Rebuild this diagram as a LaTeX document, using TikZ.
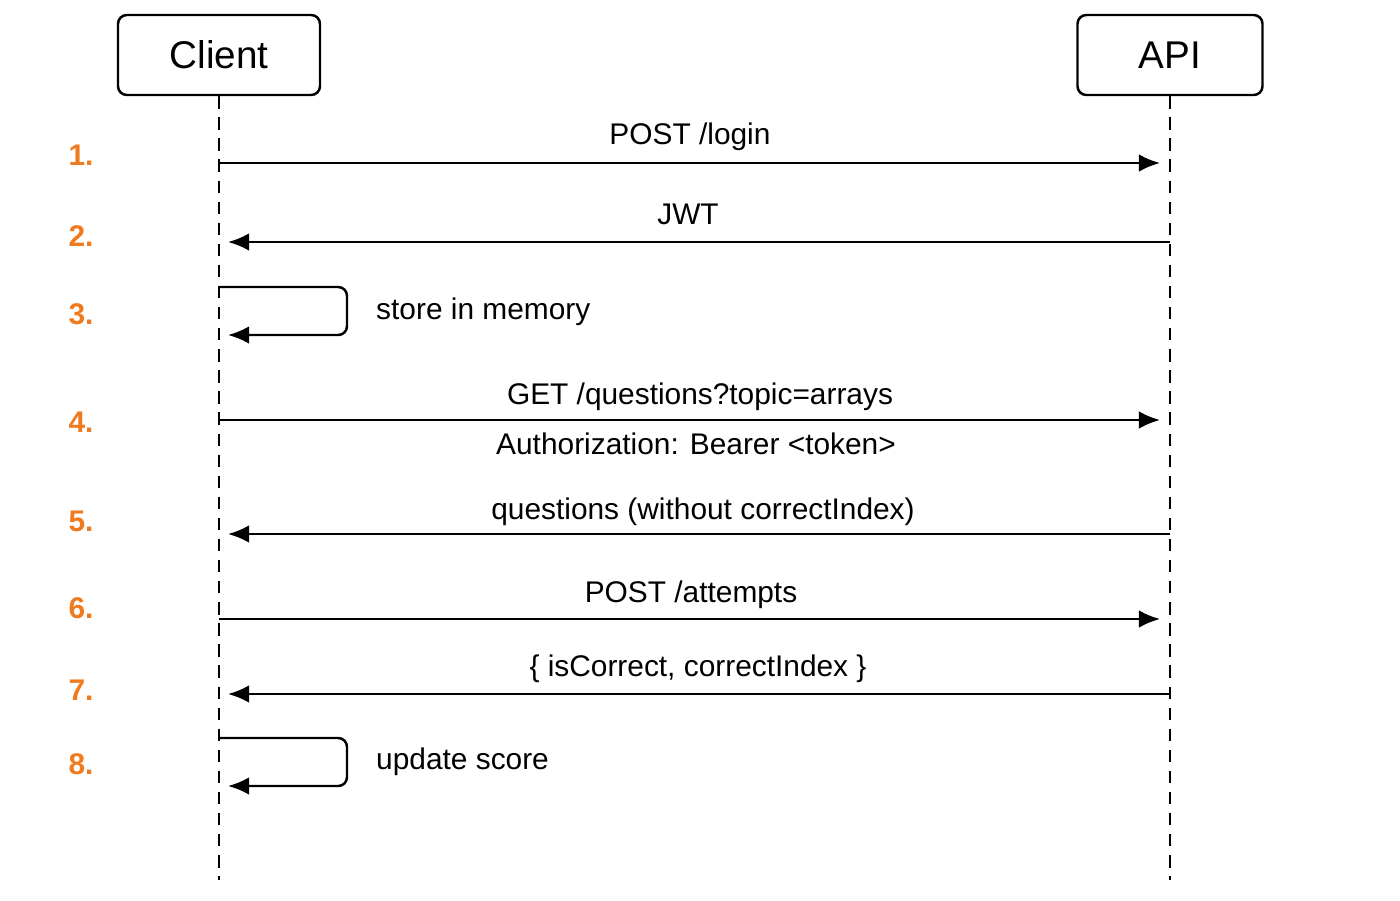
\documentclass[tikz,border=0pt]{standalone}
\usepackage{fontspec}
\setmainfont{Liberation Sans}
\usetikzlibrary{arrows.meta}
\definecolor{num}{HTML}{F07A1E}
\begin{document}
\begin{tikzpicture}[x=0.02cm,y=-0.02cm,
  box/.style={draw,line width=1.4pt,rounded corners=5pt,inner sep=0},
  life/.style={line width=1.3pt,dash pattern=on 7pt off 5pt},
  msg/.style={line width=1.4pt,-{Latex[length=12pt,width=10pt]}},
  lab/.style={font=\fontsize{17}{20}\selectfont},
  num/.style={font=\bfseries\fontsize{17}{20}\selectfont,text=num}]
\useasboundingbox (0,0) rectangle (1400,900);
\node[box,minimum width=202*0.02cm,minimum height=80*0.02cm] (client) at (219,55) {};
\node[font=\fontsize{22}{26}\selectfont] (clientl) at (219,55) {Client};
\node[box,minimum width=185*0.02cm,minimum height=80*0.02cm] (api) at (1170,55) {};
\node[font=\fontsize{22}{26}\selectfont] (apil) at (1170,55) {API};
\coordinate (ce) at (219,880);
\coordinate (ae) at (1170,880);
\draw[life] (client.south) -- (ce);
\draw[life] (api.south) -- (ae);
% message endpoints
\foreach \n/\y in {a/163,b/242,d/420,e/534,f/619,g/694}{
  \coordinate (c\n) at (219,\y);
  \coordinate (p\n) at (1170,\y);
  \coordinate (ct\n) at (228,\y);
  \coordinate (pt\n) at (1160,\y);
}
\draw[msg] (ca) -- (pta);
\draw[msg] (pb) -- (ctb);
\draw[msg] (cd) -- (ptd);
\draw[msg] (pe) -- (cte);
\draw[msg] (cf) -- (ptf);
\draw[msg] (pg) -- (ctg);
\coordinate (s1a) at (219,287); \coordinate (s1b) at (228,335);
\draw[msg,rounded corners=5pt] (s1a) -- (347,287) -- (347,335) -- (s1b);
\coordinate (s2a) at (219,738); \coordinate (s2b) at (228,786);
\draw[msg,rounded corners=5pt] (s2a) -- (347,738) -- (347,786) -- (s2b);
\node[lab] (l1) at (690,137) {POST /login};
\node[lab] (l2) at (688,214) {JWT};
\node[lab,anchor=west] (l3) at (370,312) {store in memory};
\node[lab] (l4) at (700,397) {GET /questions?topic=arrays};
\node[lab] (l4b) at (696,444) {Authorization: Bearer <token>};
\node[lab] (l5) at (703,512) {questions (without correctIndex)};
\node[lab] (l6) at (691,595) {POST /attempts};
\node[lab] (l7) at (698,669) {\{ isCorrect, correctIndex \}};
\node[lab,anchor=west] (l8) at (370,762) {update score};
\foreach \t/\y in {1/155,2/236,3/314,4/422,5/521,6/608,7/690,8/764}
  \node[num] (n\t) at (81,\y) {\t.};
\end{tikzpicture}
\end{document}
